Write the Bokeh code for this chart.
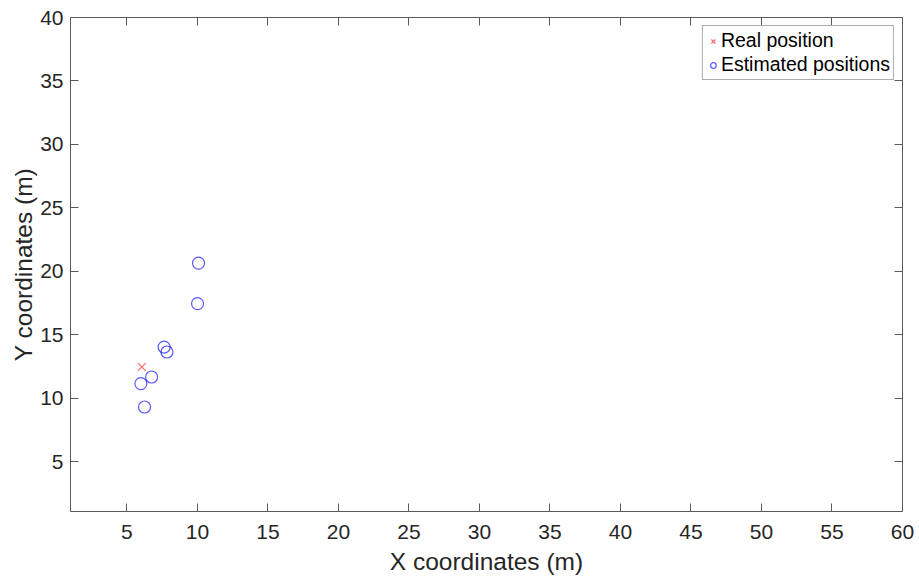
from bokeh.plotting import figure
from bokeh.models import Range1d, LinearAxis, FixedTicker, Legend, LegendItem
from bokeh.embed import file_html
from bokeh.resources import INLINE

real_x = [6.06]
real_y = [12.48]
est_x = [10.08, 10.01, 7.64, 7.84, 6.75, 5.99, 6.25]
est_y = [20.66, 17.47, 14.05, 13.66, 11.69, 11.17, 9.33]
x_ticks = [5, 10, 15, 20, 25, 30, 35, 40, 45, 50, 55, 60]
y_ticks = [5, 10, 15, 20, 25, 30, 35, 40]

FONT = "Liberation Sans"
AX = "#5a5a5a"
TXT = "#262626"

p = figure(width=918, height=577, output_backend="svg", toolbar_location=None,
           x_range=Range1d(1, 60), y_range=Range1d(1.1, 40),
           min_border_left=70, min_border_right=16, min_border_top=17, min_border_bottom=66)
p.xgrid.visible = False
p.ygrid.visible = False
p.outline_line_color = None
p.background_fill_color = "white"
p.border_fill_color = "white"

def style(ax, ticks, labels=True):
    ax.ticker = FixedTicker(ticks=ticks)
    ax.major_tick_in = 8
    ax.major_tick_out = 0
    ax.minor_tick_in = 0
    ax.minor_tick_out = 0
    ax.axis_line_color = AX
    ax.major_tick_line_color = AX
    ax.axis_line_width = 1
    if labels:
        ax.major_label_text_font = FONT
        ax.major_label_text_font_size = "21px"
        ax.major_label_text_color = TXT
        ax.axis_label_text_font = FONT
        ax.axis_label_text_font_size = "24.5px"
        ax.axis_label_text_font_style = "normal"
        ax.axis_label_text_color = TXT
    else:
        ax.major_label_text_font_size = "1px"
        ax.major_label_text_color = None
        ax.major_label_standoff = 0

p.xaxis.axis_label = "X coordinates (m)"
p.yaxis.axis_label = "Y coordinates (m)"
style(p.xaxis[0], x_ticks)
style(p.yaxis[0], y_ticks)
p.xaxis.major_label_standoff = 13
p.yaxis.major_label_standoff = 7
p.xaxis.axis_label_standoff = 6
p.yaxis.axis_label_standoff = 0

top = LinearAxis()
style(top, x_ticks, labels=False)
p.add_layout(top, "above")
right = LinearAxis()
style(right, y_ticks, labels=False)
p.add_layout(right, "right")

r1 = p.scatter(real_x, real_y, marker="x", size=11, color="red", alpha=0.6, line_width=1.2)
r2 = p.scatter(est_x, est_y, marker="circle", size=12, line_color="blue", fill_color=None,
               line_alpha=0.65, line_width=1.2)

legend = Legend(items=[LegendItem(label="Real position", renderers=[r1]),
                       LegendItem(label="Estimated positions", renderers=[r2])],
                location="top_right")
legend.label_text_font = FONT
legend.label_text_font_size = "19.5px"
legend.label_text_color = "black"
legend.border_line_color = AX
legend.border_line_width = 1
legend.background_fill_color = "white"
legend.margin = 8
legend.padding = 3
legend.spacing = 1
legend.label_height = 18
legend.glyph_height = 18
legend.glyph_width = 14
legend.label_standoff = 1
p.add_layout(legend, "center")

open("out.html", "w").write(file_html(p, INLINE))
